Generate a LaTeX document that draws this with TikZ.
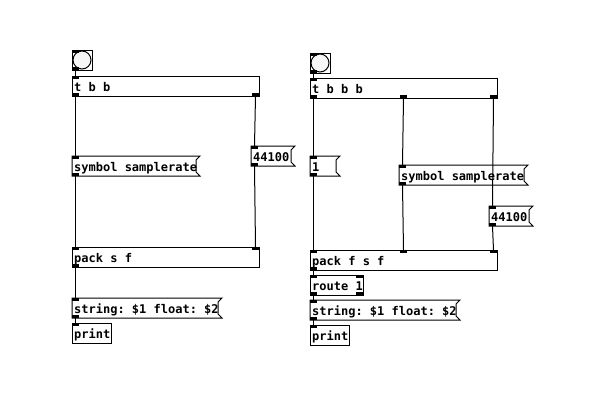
\documentclass[tikz,border=0pt]{standalone}
\usepackage{fontspec}
\setmonofont{DejaVu Sans Mono}
\usetikzlibrary{calc}
\tikzset{
  pdline/.style={draw=black, line width=1pt},
  pdwire/.style={draw=black, line width=1pt},
  pdtext/.style={inner sep=0pt, text=black, font=\ttfamily\bfseries\fontsize{12}{12}\selectfont},
  pdhold/.style={draw=none, inner sep=0pt, outer sep=0pt},
  pdio/.style={fill=black},
}
% iolets: name, x, y, w, nin, nout
\newcommand{\pdiolets}[6]{%
  \ifnum#5>0
  \pgfmathsetmacro\pdstin{(#4-7)/max(#5-1,1)}%
  \foreach \i in {1,...,#5}{%
    \pgfmathsetmacro\ix{#2+\pdstin*(\i-1)}%
    \fill[pdio] (\ix,#3) rectangle ++(7,3);
    \coordinate (#1-i\i) at (\ix+3.5,#3);
  }%
  \fi
  \ifnum#6>0
  \pgfmathsetmacro\pdstout{(#4-7)/max(#6-1,1)}%
  \foreach \i in {1,...,#6}{%
    \pgfmathsetmacro\ix{#2+\pdstout*(\i-1)}%
    \fill[pdio] (\ix,#3+17) rectangle ++(7,3);
    \coordinate (#1-o\i) at (\ix+3.5,#3+20);
  }%
  \fi
}
% object box: name, x, y, w, text, nin, nout
\newcommand{\pdobj}[7]{%
  \node[pdhold, minimum width=#4pt, minimum height=20pt, anchor=north west] (#1) at (#2,#3) {};
  \draw[pdline] (#2,#3) rectangle ++(#4,20);
  \node[pdtext, anchor=base west] (#1-txt) at (#2+2,#3+15) {#5};
  \pdiolets{#1}{#2}{#3}{#4}{#6}{#7}%
}
% message box: name, x, y, w, text
\newcommand{\pdmsg}[5]{%
  \node[pdhold, minimum width=#4pt, minimum height=20pt, anchor=north west] (#1) at (#2,#3) {};
  \draw[pdline, line join=miter] (#2,#3) -- ++(#4+4,0) -- ++(-4,4) -- ++(0,12) -- ++(4,4) -- ++(-#4-4,0) -- cycle;
  \node[pdtext, anchor=base west] (#1-txt) at (#2+2,#3+15) {#5};
  \pdiolets{#1}{#2}{#3}{#4}{1}{1}%
}
% bang: name, x, y
\newcommand{\pdbang}[3]{%
  \node[pdhold, minimum width=20pt, minimum height=20pt, anchor=north west] (#1) at (#2,#3) {};
  \draw[pdline] (#2,#3) rectangle ++(20,20);
  \draw[pdline, fill=black!3] (#2+10,#3+10) circle (9);
  \pdiolets{#1}{#2}{#3}{20}{1}{1}%
}
\begin{document}
\begin{tikzpicture}[x=1pt, y=-1pt]
\fill[white] (0,0) rectangle (616,407);
\useasboundingbox (0,0) rectangle (616,407);

% ---------- left patch ----------
\pdbang{bangL}{72}{50}
\pdobj{tL}{72}{76}{187}{t b b}{1}{2}
\pdmsg{symL}{72}{156}{124}{symbol samplerate}
\pdmsg{numL}{251}{146}{40}{44100}
\pdobj{packL}{72}{247}{187}{pack s f}{2}{1}
\pdmsg{strL}{72}{298}{146}{string: \$1 float: \$2}
\pdobj{printL}{72}{323}{39}{print}{1}{0}

\draw[pdwire] (bangL-o1) -- (tL-i1);
\draw[pdwire] (tL-o1) -- (symL-i1);
\draw[pdwire] (tL-o2) -- (numL-i1);
\draw[pdwire] (symL-o1) -- (packL-i1);
\draw[pdwire] (numL-o1) -- (packL-i2);
\draw[pdwire] (packL-o1) -- (strL-i1);
\draw[pdwire] (strL-o1) -- (printL-i1);

% ---------- right patch ----------
\pdbang{bangR}{310}{53}
\pdobj{tR}{310}{78}{187}{t b b b}{1}{3}
\pdmsg{oneR}{310}{156}{26}{1}
\pdmsg{symR}{399}{165}{125}{symbol samplerate}
\pdmsg{numR}{489}{206}{40}{44100}
\pdobj{packR}{310}{250}{187}{pack f s f}{3}{1}
\pdobj{routeR}{310}{275}{53}{route 1}{2}{2}
\pdmsg{strR}{310}{300}{146}{string: \$1 float: \$2}
\pdobj{printR}{310}{325}{39}{print}{1}{0}

\draw[pdwire] (bangR-o1) -- (tR-i1);
\draw[pdwire] (tR-o1) -- (oneR-i1);
\draw[pdwire] (tR-o2) -- (symR-i1);
\draw[pdwire] (tR-o3) -- (numR-i1);
\draw[pdwire] (oneR-o1) -- (packR-i1);
\draw[pdwire] (symR-o1) -- (packR-i2);
\draw[pdwire] (numR-o1) -- (packR-i3);
\draw[pdwire] (packR-o1) -- (routeR-i1);
\draw[pdwire] (routeR-o1) -- (strR-i1);
\draw[pdwire] (strR-o1) -- (printR-i1);
\end{tikzpicture}
\end{document}
